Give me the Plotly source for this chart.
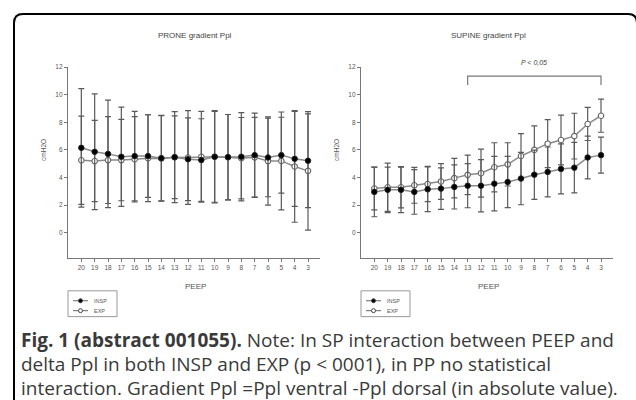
import plotly.graph_objects as go

# PEEP levels, shown from high to low
peep = [20, 19, 18, 17, 16, 15, 14, 13, 12, 11, 10, 9, 8, 7, 6, 5, 4, 3]
y_ticks = [0, 2, 4, 6, 8, 10, 12]

# prone position, mean and SD (cmH2O)
prone_insp = [6.15, 5.86, 5.71, 5.5, 5.55, 5.55, 5.4, 5.47, 5.32, 5.26, 5.5, 5.47, 5.5, 5.62, 5.45, 5.62, 5.35, 5.21]
prone_insp_sd = [4.3, 4.2, 3.9, 3.6, 3.25, 3.0, 3.1, 3.0, 3.0, 3.0, 3.3, 3.1, 3.2, 3.05, 2.85, 2.75, 3.45, 3.4]
prone_exp = [5.25, 5.19, 5.26, 5.26, 5.32, 5.4, 5.38, 5.47, 5.45, 5.5, 5.5, 5.47, 5.4, 5.46, 5.19, 5.2, 4.8, 4.48]
prone_exp_sd = [3.2, 2.95, 3.15, 2.95, 3.1, 3.15, 3.1, 3.3, 3.4, 3.3, 3.35, 3.1, 2.95, 2.9, 3.2, 3.55, 4.05, 4.3]

# supine position, mean and SD (cmH2O)
supine_insp = [2.95, 3.1, 3.1, 2.95, 3.14, 3.19, 3.31, 3.4, 3.4, 3.55, 3.67, 3.92, 4.2, 4.4, 4.62, 4.71, 5.45, 5.62]
supine_insp_sd = [1.8, 1.65, 1.65, 1.62, 1.62, 1.5, 1.6, 1.6, 1.9, 1.98, 1.86, 1.9, 1.79, 1.81, 1.81, 1.83, 1.55, 1.3]
supine_exp = [3.2, 3.29, 3.29, 3.43, 3.52, 3.71, 3.95, 4.19, 4.31, 4.74, 4.95, 5.56, 6.0, 6.45, 6.72, 7.0, 7.88, 8.48]
supine_exp_sd = [1.55, 1.75, 1.5, 1.3, 1.28, 1.3, 1.43, 1.43, 1.74, 1.78, 1.57, 1.62, 1.74, 1.74, 1.81, 1.66, 1.2, 1.2]

# significance bracket on the supine panel
bracket_peep = [13, 3]
bracket_label = "P < 0,05"

caption_lines = [
    "<b>Fig. 1 (abstract 001055).</b> Note: In SP interaction between PEEP and",
    "delta Ppl in both INSP and EXP (p < 0001), in PP no statistical",
    "interaction. Gradient Ppl =Ppl ventral -Ppl dorsal (in absolute value).",
]

W, H = 636, 400
small_font = "Liberation Sans, Arial"
axis_font = dict(family=small_font, size=6.5, color="#555")
line_col = "#8a8a8a"
bar_col = "#5a5a5a"


def px_x(p):
    return p / W


def px_y(p):
    return 1 - p / H


fig = go.Figure()


def add_panel(xa, ya, insp, insp_sd, exp, exp_sd):
    # EXP: open circles
    fig.add_trace(go.Scatter(
        x=peep, y=exp, name="EXP", mode="lines+markers", xaxis=xa, yaxis=ya,
        line=dict(color=line_col, width=1.5),
        marker=dict(symbol="circle", size=5.5, color="white", line=dict(color="#666", width=1.1)),
        error_y=dict(type="data", array=exp_sd, symmetric=True, color=bar_col, thickness=1.2, width=3),
    ))
    # INSP: filled circles
    fig.add_trace(go.Scatter(
        x=peep, y=insp, name="INSP", mode="lines+markers", xaxis=xa, yaxis=ya,
        line=dict(color=line_col, width=1.5),
        marker=dict(symbol="circle", size=5.5, color="black", line=dict(color="#222", width=1)),
        error_y=dict(type="data", array=insp_sd, symmetric=True, color=bar_col, thickness=1.2, width=3),
    ))


add_panel("x", "y", prone_insp, prone_insp_sd, prone_exp, prone_exp_sd)
add_panel("x2", "y2", supine_insp, supine_insp_sd, supine_exp, supine_exp_sd)

y_dom = [px_y(257), px_y(64)]
xaxis_style = dict(
    range=[21, 2.1], tickvals=peep, showline=True, linecolor="#777", linewidth=1.2,
    ticks="outside", ticklen=3, tickcolor="#777", showgrid=False, zeroline=False,
    tickfont=axis_font,
)
yaxis_style = dict(
    range=[-1.85, 12.05], tickvals=y_ticks, showline=True, linecolor="#777", linewidth=1.2,
    ticks="outside", ticklen=3, tickcolor="#777", showgrid=False, zeroline=False,
    tickfont=axis_font, domain=y_dom,
)

fig.update_layout(
    width=W, height=H,
    margin=dict(l=0, r=0, t=0, b=0),
    paper_bgcolor="white", plot_bgcolor="white",
    xaxis=dict(xaxis_style, domain=[px_x(68), px_x(320)], anchor="y"),
    yaxis=dict(yaxis_style, anchor="x"),
    xaxis2=dict(xaxis_style, domain=[px_x(361), px_x(613)], anchor="y2"),
    yaxis2=dict(yaxis_style, anchor="x2"),
    showlegend=False,
)

for left, cx, title in [(68, 195, "PRONE gradient Ppl"), (361, 488, "SUPINE gradient Ppl")]:
    # panel title
    fig.add_annotation(
        x=px_x(cx), y=px_y(33), xref="paper", yref="paper", text=title, showarrow=False,
        xanchor="center", yanchor="middle", font=dict(family=small_font, size=8, color="#444"),
    )
    # axis titles
    fig.add_annotation(
        x=px_x(cx), y=px_y(286), xref="paper", yref="paper", text="PEEP", showarrow=False,
        xanchor="center", yanchor="middle", font=dict(family=small_font, size=8, color="#555"),
    )
    fig.add_annotation(
        x=px_x(left - 24), y=px_y(148), xref="paper", yref="paper", text="cmH2O", showarrow=False,
        xanchor="center", yanchor="middle", textangle=-90, font=dict(family=small_font, size=6.5, color="#555"),
    )
    # small legend box: INSP (filled) over EXP (open)
    fig.add_shape(type="rect", xref="paper", yref="paper",
                  x0=px_x(left), x1=px_x(left + 49), y0=px_y(316), y1=px_y(290),
                  line=dict(color="#999", width=1), fillcolor="white")
    for row_y, name, fill in [(300, "INSP", "black"), (310, "EXP", "white")]:
        fig.add_shape(type="line", xref="paper", yref="paper",
                      x0=px_x(left + 5), x1=px_x(left + 20), y0=px_y(row_y), y1=px_y(row_y),
                      line=dict(color="#666", width=1))
        fig.add_shape(type="circle", xref="paper", yref="paper",
                      x0=px_x(left + 10.5), x1=px_x(left + 14.5), y0=px_y(row_y + 2), y1=px_y(row_y - 2),
                      line=dict(color="#444", width=1), fillcolor=fill)
        fig.add_annotation(
            x=px_x(left + 24), y=px_y(row_y), xref="paper", yref="paper", text=name, showarrow=False,
            xanchor="left", yanchor="middle", font=dict(family=small_font, size=5.5, color="#555"),
        )

# significance bracket
fig.add_shape(
    type="path", xref="x2", yref="y2",
    path=f"M {bracket_peep[0]},10.7 L {bracket_peep[0]},11.35 L {bracket_peep[1]},11.35 L {bracket_peep[1]},10.7",
    line=dict(color="#777", width=1.2),
)
fig.add_annotation(
    x=sum(bracket_peep) / 2, y=px_y(60), xref="x2", yref="paper", text=f"<i>{bracket_label}</i>",
    showarrow=False, xanchor="center", yanchor="middle",
    font=dict(family=small_font, size=7, color="#444"),
)

# caption below the charts
for i, line in enumerate(caption_lines):
    fig.add_annotation(
        x=px_x(19), y=px_y(340 + 24 * i), xref="paper", yref="paper", text=line,
        showarrow=False, xanchor="left", yanchor="middle",
        font=dict(family="Open Sans", size=19, color="#3a3a3a"),
    )

# rounded frame around the figure (bottom and right edges fall outside the picture)
r = 9
x0, x1, yt, yb = 14, 637, 11, 410
frame = (
    f"M {px_x(x0)},{px_y(yb)} L {px_x(x0)},{px_y(yt + r)} "
    f"Q {px_x(x0)},{px_y(yt)} {px_x(x0 + r)},{px_y(yt)} "
    f"L {px_x(x1 - r)},{px_y(yt)} Q {px_x(x1)},{px_y(yt)} {px_x(x1)},{px_y(yt + r)} "
    f"L {px_x(x1)},{px_y(yb)}"
)
fig.add_shape(type="path", xref="paper", yref="paper", path=frame, line=dict(color="black", width=2))

# page body has a default margin; drop it so the figure sits at the window corner
fig.write_html("out.html", config={"displayModeBar": False},
               post_script="document.body.style.margin='0';")
